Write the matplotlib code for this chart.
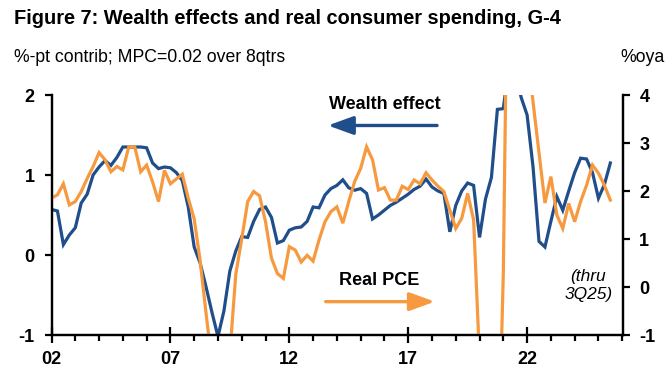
import matplotlib
matplotlib.use("Agg")
import matplotlib.pyplot as plt
from matplotlib.ticker import FixedLocator, MultipleLocator
import numpy as np

# ---------------- data (quarterly, 1Q02 .. 3Q25) ----------------
start_year = 2002
wealth_effect = [
    0.57, 0.55, 0.13, 0.25, 0.34, 0.65, 0.76, 1.00, 1.10, 1.18,
    1.12, 1.22, 1.35, 1.35, 1.35, 1.35, 1.34, 1.15, 1.08, 1.10,
    1.09, 1.03, 0.93, 0.60, 0.10, -0.10, -0.40, -0.72, -1.02, -0.70,
    -0.20, 0.05, 0.23, 0.22, 0.42, 0.57, 0.60, 0.47, 0.15, 0.18,
    0.31, 0.34, 0.35, 0.42, 0.60, 0.59, 0.75, 0.83, 0.87, 0.94,
    0.84, 0.81, 0.83, 0.77, 0.45, 0.50, 0.56, 0.62, 0.66, 0.71,
    0.76, 0.82, 0.86, 0.95, 0.85, 0.80, 0.77, 0.29, 0.62, 0.80,
    0.90, 0.87, 0.22, 0.70, 0.97, 1.82, 1.83, 2.40, 2.30, 1.97,
    1.75, 1.10, 0.17, 0.10, 0.42, 0.73, 0.56, 0.80, 1.03, 1.21,
    1.20, 1.03, 0.71, 0.88, 1.15,
]
real_pce = [
    1.85, 1.92, 2.15, 1.71, 1.78, 1.99, 2.26, 2.51, 2.80, 2.65,
    2.40, 2.51, 2.44, 2.92, 2.92, 2.40, 2.54, 2.19, 1.78, 2.43,
    2.15, 2.25, 2.35, 1.85, 1.42, 0.55, -0.55, -1.60, -1.80, -1.50,
    -1.40, 0.27, 1.00, 1.78, 1.99, 1.90, 1.36, 0.60, 0.28, 0.18,
    0.84, 0.77, 0.52, 0.66, 0.54, 0.98, 1.36, 1.57, 1.67, 1.33,
    1.78, 2.20, 2.47, 2.92, 2.65, 2.02, 2.07, 1.81, 1.81, 2.10,
    2.03, 2.23, 2.15, 2.38, 2.23, 2.10, 1.99, 1.60, 1.22, 1.43,
    1.95, 1.40, -1.50, -11.0, -4.00, -4.50, 0.30, 10.0, 6.00, 5.80,
    5.00, 3.85, 2.80, 1.75, 2.30, 1.50, 1.22, 1.74, 1.36, 1.78,
    2.12, 2.54, 2.37, 2.12, 1.81,
]
major_years = [2002, 2007, 2012, 2017, 2022]
major_labels = ["02", "07", "12", "17", "22"]
left_ticks = [-1, 0, 1, 2]
right_ticks = [-1, 0, 1, 2, 3, 4]

title = "Figure 7: Wealth effects and real consumer spending, G-4"
subtitle = "%-pt contrib; MPC=0.02 over 8qtrs"
right_unit = "%oya"

BLUE = "#1f4e8a"
ORANGE = "#f7993f"

plt.rcParams["font.family"] = ["Liberation Sans", "DejaVu Sans"]

t = start_year + np.arange(len(wealth_effect)) / 4.0

W, H = 670, 374
fig = plt.figure(figsize=(W / 100, H / 100), dpi=100)
L, R, T, B = 51.5, 622.7, 95, 335
ax = fig.add_axes([L / W, 1 - B / H, (R - L) / W, (B - T) / H])
ax2 = ax.twinx()

ax.plot(t, wealth_effect, color=BLUE, lw=2.3, solid_joinstyle="miter")
ax2.plot(t, real_pce, color=ORANGE, lw=2.3, solid_joinstyle="miter")

ax.set_xlim(2002, 2026.02)
ax.set_ylim(-1, 2)
ax2.set_ylim(-1, 4)

for a in (ax, ax2):
    a.spines["top"].set_visible(False)
    for s in ("left", "right", "bottom"):
        a.spines[s].set_linewidth(1.6)
        a.spines[s].set_color("black")
    a.patch.set_visible(False)

ax.xaxis.set_major_locator(FixedLocator(major_years))
ax.set_xticklabels(major_labels)
ax.xaxis.set_minor_locator(MultipleLocator(1))
ax.tick_params(axis="x", which="major", direction="inout", length=11, width=1.6,
               pad=6, labelsize=13, labelcolor="black")
ax.tick_params(axis="x", which="minor", direction="out", length=4, width=1.6)
for lab in ax.get_xticklabels():
    lab.set_fontweight("bold")

ax.yaxis.set_major_locator(FixedLocator(left_ticks))
ax.set_yticklabels([str(v) for v in left_ticks])
ax.tick_params(axis="y", direction="out", length=5, width=1.6, pad=7, labelsize=13)
for lab in ax.get_yticklabels():
    lab.set_fontweight("bold")

ax2.yaxis.set_major_locator(FixedLocator(right_ticks))
ax2.set_yticklabels([str(v) for v in right_ticks])
ax2.tick_params(axis="y", direction="out", length=5, width=1.6, pad=7, labelsize=13)
for lab in ax2.get_yticklabels():
    lab.set_fontweight("bold")

# annotations
ax.text(0.584, 0.962, "Wealth effect", transform=ax.transAxes, ha="center", va="center",
        fontsize=13, fontweight="bold", color="black")
ax.annotate("", xy=(0.484, 0.873), xytext=(0.675, 0.873), xycoords="axes fraction",
            arrowprops=dict(arrowstyle="-|>,head_length=1.1,head_width=0.4", color=BLUE,
                            lw=2.4, mutation_scale=14, shrinkA=0, shrinkB=0))
ax.text(0.573, 0.229, "Real PCE", transform=ax.transAxes, ha="center", va="center",
        fontsize=13, fontweight="bold", color="black")
ax.annotate("", xy=(0.671, 0.139), xytext=(0.480, 0.139), xycoords="axes fraction",
            arrowprops=dict(arrowstyle="-|>,head_length=1.1,head_width=0.4", color=ORANGE,
                            lw=2.4, mutation_scale=14, shrinkA=0, shrinkB=0))
ax.text(0.940, 0.206, "(thru\n3Q25)", transform=ax.transAxes, ha="center", va="center",
        fontsize=12.5, fontstyle="italic", color="black", linespacing=1.2)

fig.text(14 / W, 1 - 18 / H, title, ha="left", va="center", fontsize=14.4,
         fontweight="bold", color="black")
fig.text(14 / W, 1 - 58 / H, subtitle, ha="left", va="center", fontsize=12.7, color="black")
fig.text(665 / W, 1 - 58 / H, right_unit, ha="right", va="center", fontsize=12.7, color="black")

fig.savefig("out.png", dpi=100)
